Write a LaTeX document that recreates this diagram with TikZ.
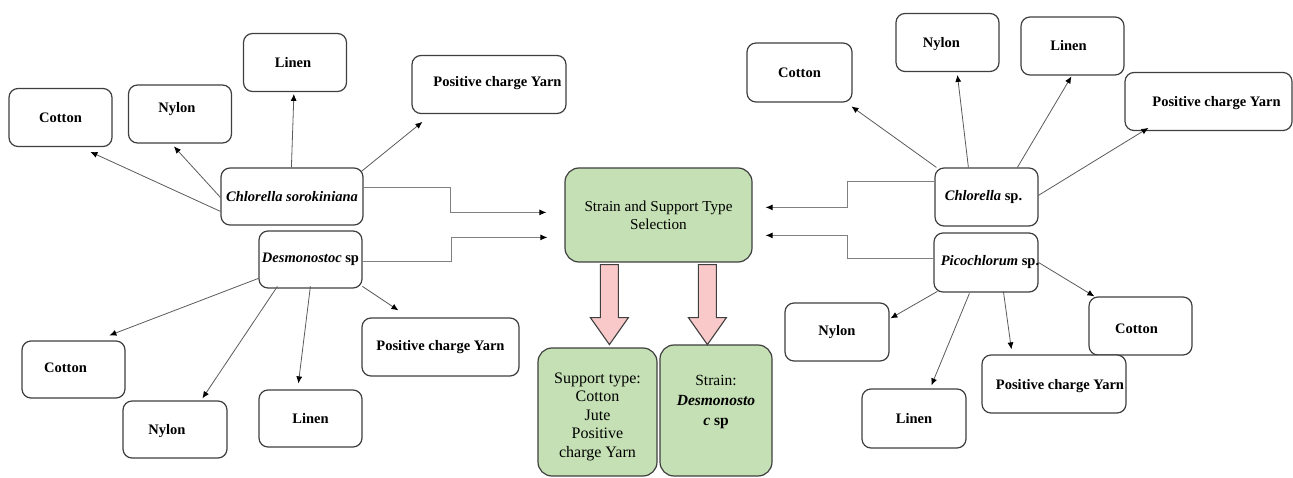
\documentclass[tikz,border=0pt]{standalone}
\usepackage{fontspec}
\setmainfont{Liberation Serif}
\usetikzlibrary{arrows.meta,calc}
\definecolor{boxc}{HTML}{3F3F3F}
\definecolor{conc}{HTML}{5A5A5A}
\definecolor{elbc}{HTML}{7F7F7F}
\definecolor{grn}{HTML}{C5E0B4}
\definecolor{pnk}{HTML}{F9C8C8}
\begin{document}
\begin{tikzpicture}[x=1pt,y=-1pt,
  box/.style={draw=boxc,line width=1.2pt,rounded corners=9pt,fill=white,inner sep=0pt,
    font=\bfseries\fontsize{14.5}{17}\selectfont,minimum width=103pt,minimum height=58pt},
  gbox/.style={box,fill=grn,font=\fontsize{15.2}{18}\selectfont,align=center,rounded corners=14pt},
  lbl/.style={font=\bfseries\fontsize{14.5}{17}\selectfont,inner sep=0pt},
  conn/.style={draw=conc,line width=0.8pt,-{Latex[length=7pt,width=6pt,color=black]}},
  elb/.style={draw=elbc,line width=0.9pt,-{Latex[length=7pt,width=6pt,color=black]}},
  blk/.style={draw=boxc,line width=1.1pt,fill=pnk,line join=miter}
]
\useasboundingbox (0,0) rectangle (1293,478);

% ---------- left upper cluster ----------
\node[box] (lc1) at (60.5,117.5) {Cotton};
\node[box,label={[lbl,xshift=-3pt,yshift=5pt]center:Nylon}] (ln1) at (180,114) {};
\node[box,label={[lbl,xshift=-2pt]center:Linen}] (ll1) at (295,62.5) {};
\node[box,minimum width=154pt,label={[lbl,xshift=8.5pt,yshift=1pt]center:Positive charge Yarn}] (lp1) at (489,84.5) {};
\node[box,minimum width=142pt,minimum height=57pt] (cs) at (292,196.5) {\textit{Chlorella sorokiniana}};
\node[box,minimum height=57pt] (ds) at (310.5,259.5) {\textit{Desmonostoc} sp};

% ---------- left lower cluster ----------
\node[box,minimum height=57pt,label={[lbl,xshift=-8pt,yshift=2pt]center:Cotton}] (lc2) at (73.5,369.5) {};
\node[box,minimum width=104pt,minimum height=57pt,label={[lbl,xshift=-8pt,yshift=-2pt]center:Nylon}] (ln2) at (175,429.5) {};
\node[box,minimum height=57pt] (ll2) at (310.5,418.5) {Linen};
\node[box,minimum width=157pt] (lp2) at (440.5,347) {Positive charge Yarn};

% ---------- centre ----------
\node[gbox,minimum width=187pt,minimum height=94pt] (sel) at (658.5,215) {Strain and Support Type\\Selection};
\node[gbox,minimum width=119pt,minimum height=128pt,
  label={[align=center,font=\fontsize{16}{18.5}\selectfont,yshift=-4.5pt]center:Support type:\\Cotton\\Jute\\Positive\\charge Yarn}] (sup) at (597.5,412) {};
\node[gbox,minimum width=112pt,minimum height=131pt,
  label={[align=center,font=\fontsize{15.5}{20}\selectfont,yshift=8.5pt]center:Strain:\\\textbf{\textit{Desmonosto}}\\\textbf{\textit{c} sp}}] (str) at (716,410.5) {};

% ---------- right upper cluster ----------
\node[box,minimum width=105pt,minimum height=59pt] (rc1) at (799.5,72.5) {Cotton};
\node[box,label={[lbl,xshift=-6pt,yshift=-2pt]center:Nylon}] (rn1) at (947.5,42.5) {};
\node[box,label={[lbl,xshift=-4pt]center:Linen}] (rl1) at (1072.5,46) {};
\node[box,minimum width=167pt,label={[lbl,xshift=8pt,yshift=-1.5pt]center:Positive charge Yarn}] (rp1) at (1208.5,101.5) {};
\node[box,label={[lbl,xshift=-3pt]center:\textit{Chlorella} sp.}] (ch) at (986.5,197) {};
\node[box,minimum width=104pt,minimum height=59pt,label={[lbl,xshift=4pt]center:\textit{Picochlorum} sp.}] (pi) at (986,262.5) {};

% ---------- right lower cluster ----------
\node[box,minimum width=104pt] (rn2) at (837,332) {Nylon};
\node[box,label={[lbl,xshift=-4pt,yshift=-3pt]center:Cotton}] (rc2) at (1140.5,326) {};
\node[box,minimum width=144pt,label={[lbl,xshift=6pt,yshift=-2pt]center:Positive charge Yarn}] (rp2) at (1054,384) {};
\node[box,minimum width=104pt,minimum height=59pt] (rl2) at (914,418.5) {Linen};

% ---------- connectors: left ----------
\draw[conn] ($(cs.north west)+(0,44)$) -- ($(lc1.north west)+(82,64)$);
\draw[conn] ($(cs.north west)+(0,30)$) -- ($(ln1.north west)+(46,62)$);
\draw[conn] ($(cs.north west)+(71,0)$) -- ($(ll1.north west)+(51,61)$);
\draw[conn] ($(cs.north west)+(141,4)$) -- ($(lp1.north west)+(11,67)$);
\draw[conn] ($(ds.north west)+(0,48)$) -- ($(lc2.north west)+(88,-5)$);
\draw[conn] ($(ds.north west)+(19,56)$) -- ($(ln2.north west)+(80,-2)$);
\draw[conn] ($(ds.north west)+(52,56)$) -- ($(ll2.north west)+(40,-6)$);
\draw[conn] ($(ds.north west)+(104,56)$) -- ($(lp2.north west)+(37,-7)$);
\draw[elb] ($(cs.north east)+(0,20)$) -- ++(87,0) |- ($(sel.north west)+(-18,45)$);
\draw[elb] ($(ds.north east)+(0,31)$) -- ++(89,0) |- ($(sel.north west)+(-17,70)$);

% ---------- connectors: right ----------
\draw[conn] ($(ch.north west)+(2,0)$) -- ($(rc1.north west)+(105,64)$);
\draw[conn] ($(ch.north west)+(34,0)$) -- ($(rn1.north west)+(62,62)$);
\draw[conn] ($(ch.north west)+(83,0)$) -- ($(rl1.north west)+(51,60)$);
\draw[conn] ($(ch.north west)+(104,28)$) -- ($(rp1.north west)+(24,56)$);
\draw[conn] ($(pi.north west)+(105,30)$) -- ($(rc2.north west)+(6,0)$);
\draw[conn] ($(pi.north west)+(4,59)$) -- ($(rn2.north west)+(106,16)$);
\draw[conn] ($(pi.north west)+(36,61)$) -- ($(rl2.north west)+(70,-3)$);
\draw[conn] ($(pi.north west)+(70,59)$) -- ($(rp2.north west)+(30,-5)$);
\draw[elb] ($(ch.north west)+(0,14)$) -- ++(-87,0) |- ($(sel.north east)+(13,40)$);
\draw[elb] ($(pi.north west)+(0,26)$) -- ++(-86,0) |- ($(sel.north east)+(13,68)$);

% ---------- block arrows ----------
\draw[blk] ($(sel.south west)+(36,2)$) -- ++(18,0) -- ++(0,53) -- ++(10,0) -- ++(-19,27) -- ++(-19,-27) -- ++(10,0) -- cycle;
\draw[blk] ($(sel.south west)+(134,2)$) -- ++(18,0) -- ++(0,53) -- ++(10,0) -- ++(-19,27) -- ++(-19,-27) -- ++(10,0) -- cycle;
\end{tikzpicture}
\end{document}
